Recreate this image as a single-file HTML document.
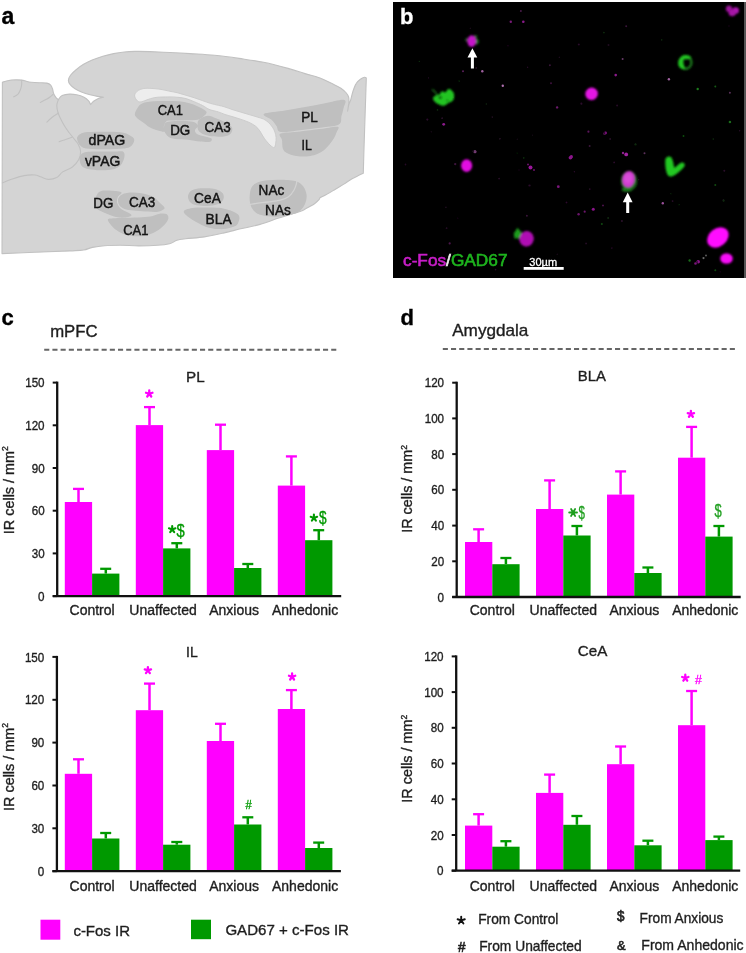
<!DOCTYPE html>
<html><head><meta charset="utf-8"><title>Figure</title>
<style>
html,body{margin:0;padding:0;background:#fff;}
body{width:746px;height:953px;overflow:hidden;}
svg{display:block;font-family:"Liberation Sans", sans-serif;}
</style></head>
<body>
<svg width="746" height="953" viewBox="0 0 746 953">
<defs>
<filter id="blur1" x="-50%" y="-50%" width="200%" height="200%"><feGaussianBlur stdDeviation="0.9"/></filter>
<filter id="blurR" x="-20%" y="-20%" width="140%" height="140%"><feGaussianBlur stdDeviation="0.7"/></filter>
<filter id="blur04" x="-20%" y="-20%" width="140%" height="140%"><feGaussianBlur stdDeviation="0.4"/></filter>
<filter id="tb" x="-5%" y="-5%" width="110%" height="110%"><feGaussianBlur stdDeviation="0.35"/></filter>
<filter id="blur05" x="-50%" y="-50%" width="200%" height="200%"><feGaussianBlur stdDeviation="0.5"/></filter>
</defs>
<g id="brain">
<path d="M2.4 82.2C3.2 82.0 5.4 81.2 7.5 80.8C9.6 80.4 12.7 80.0 15.0 79.9C17.4 79.8 19.7 79.9 21.6 80.1C23.5 80.3 24.7 80.9 26.3 81.3C27.9 81.7 28.8 82.0 31.0 82.2C33.2 82.4 36.8 82.6 39.4 82.7C42.0 82.8 45.0 82.7 46.9 83.1C48.8 83.5 49.8 84.2 50.7 85.2C51.6 86.2 52.0 87.4 52.5 88.8C53.0 90.2 53.0 92.0 53.6 93.5C54.2 95.0 55.2 96.6 56.0 97.6C56.8 98.6 57.9 99.3 58.3 99.6C58.9 98.9 60.3 96.5 62.2 95.6C64.1 94.7 67.1 94.2 69.5 94.1C71.9 94.0 74.3 94.3 76.7 94.8C79.1 95.3 82.0 96.2 84.0 97.2C86.0 98.2 87.5 99.6 88.6 100.8C89.7 102.0 90.3 104.0 90.6 104.6C91.1 104.0 92.3 102.3 93.6 101.3C94.9 100.3 96.7 99.1 98.4 98.4C100.1 97.7 102.7 97.5 103.6 97.3C102.6 97.2 99.8 96.8 97.5 96.4C95.2 96.0 92.7 95.5 90.0 94.8C87.3 94.1 83.9 93.0 81.4 92.0C78.9 91.0 76.9 89.9 75.0 88.7C73.1 87.5 71.3 86.0 70.2 84.6C69.1 83.2 68.4 82.0 68.4 80.4C68.5 78.9 69.2 77.1 70.5 75.3C71.8 73.5 73.9 71.5 76.1 69.7C78.3 67.9 80.9 65.9 83.6 64.3C86.3 62.7 89.0 61.3 92.2 60.0C95.4 58.7 99.3 57.4 102.9 56.3C106.5 55.2 110.0 54.3 113.6 53.6C117.2 52.9 120.7 52.4 124.3 52.0C127.9 51.6 130.8 51.5 135.1 51.4C139.4 51.3 144.2 51.4 150.0 51.6C155.8 51.8 163.3 52.2 170.0 52.5C176.7 52.8 182.6 53.1 190.0 53.6C197.4 54.1 206.3 54.5 214.5 55.3C222.7 56.1 230.8 57.2 239.0 58.4C247.2 59.6 255.4 60.6 263.6 62.3C271.8 64.0 281.2 66.5 288.1 68.4C295.0 70.3 299.7 72.0 305.0 73.6C310.3 75.2 315.5 76.3 320.0 78.0C324.5 79.7 328.5 81.9 332.0 83.6C335.5 85.3 338.5 86.6 340.9 88.2C343.3 89.8 345.0 91.5 346.3 93.0C347.6 94.5 348.2 95.6 348.6 97.0C349.0 98.4 349.0 99.8 348.9 101.5C348.8 103.2 348.4 105.9 348.2 107.5C348.0 109.1 347.7 110.6 347.6 111.2C347.8 110.2 348.1 107.4 348.6 105.5C349.1 103.6 350.0 102.1 350.7 99.8C351.4 97.5 352.0 94.2 352.9 91.5C353.8 88.8 354.9 85.6 356.2 83.6C357.4 81.5 359.0 80.2 360.4 79.2C361.8 78.2 363.4 77.5 364.4 77.3C365.4 77.1 366.0 77.9 366.3 78.0C366.2 81.7 365.9 91.3 365.6 100.0C365.3 108.7 364.9 120.8 364.6 130.0C364.3 139.2 364.0 147.8 363.8 155.0C363.6 162.2 363.4 170.2 363.3 173.3C362.4 173.7 359.8 174.9 357.9 175.8C356.0 176.7 354.5 177.4 352.1 178.8C349.7 180.2 346.4 182.5 343.4 184.4C340.3 186.3 337.0 188.3 333.8 190.2C330.6 192.1 326.4 194.6 324.1 195.8C321.8 197.0 320.7 197.3 320.0 197.6C319.8 198.0 319.4 199.2 318.5 200.2C317.6 201.2 316.6 202.3 314.5 203.7C312.4 205.1 308.4 207.3 306.0 208.6C303.6 209.9 304.5 209.9 300.0 211.5C295.5 213.1 285.5 215.8 278.8 218.0C272.1 220.2 266.1 222.7 260.0 224.4C253.9 226.2 248.1 227.1 242.0 228.5C235.9 229.9 229.5 231.7 223.2 233.1C216.9 234.5 210.7 235.9 204.4 236.9C198.2 237.9 190.3 238.2 185.7 238.8C181.1 239.4 179.7 239.5 177.0 240.3C174.3 241.1 172.8 243.0 169.5 243.8C166.2 244.6 162.6 245.0 157.5 245.3C152.4 245.7 145.1 245.9 138.8 245.9C132.6 245.9 125.7 245.2 120.0 245.2C114.3 245.2 109.2 245.3 104.6 245.7C100.0 246.1 95.9 246.7 92.4 247.4C88.9 248.1 87.5 249.4 83.7 250.0C79.9 250.6 77.8 250.5 69.7 250.9C61.6 251.3 46.2 251.9 34.9 252.3C23.6 252.8 7.5 253.4 2.0 253.6C2.1 225.0 2.3 110.8 2.4 82.2Z" fill="#d4d4d4" stroke="#c1c1c1" stroke-width="1.1" stroke-linejoin="round"/>
<path d="M21.6 80.3C21.6 81.1 21.8 83.5 21.6 85.0C21.4 86.5 21.1 87.9 20.5 89.5C19.9 91.1 18.9 93.2 17.8 94.4C16.7 95.6 14.3 96.4 13.6 96.8" fill="none" stroke="#c1c1c1" stroke-width="1.1" stroke-linecap="round"/>
<path d="M53.0 94.5C52.5 94.9 51.0 96.2 50.0 97.0C49.0 97.8 48.5 98.2 46.9 99.1C45.3 100.0 41.4 101.9 40.3 102.4" fill="none" stroke="#c1c1c1" stroke-width="1.1" stroke-linecap="round"/>
<path d="M58.3 99.8C58.0 100.8 56.8 103.6 56.8 105.7C56.8 107.8 57.4 110.3 58.0 112.5C58.6 114.7 59.5 116.5 60.6 118.8C61.7 121.1 63.3 124.0 64.7 126.3C66.1 128.6 67.6 130.6 69.0 132.5C70.4 134.4 71.5 135.6 73.0 137.5C74.5 139.4 76.9 141.9 78.2 144.2C79.5 146.5 80.5 148.8 80.6 151.4C80.7 154.0 80.0 157.2 78.6 159.8C77.2 162.4 75.1 165.0 72.4 167.0C69.8 169.0 65.3 170.1 62.7 171.9C60.1 173.7 59.1 176.3 56.7 177.6C54.3 178.8 51.0 179.5 48.3 179.4C45.6 179.3 42.7 177.5 40.5 176.8C38.3 176.1 37.7 175.2 35.0 175.0C32.3 174.8 27.9 174.9 24.1 175.6C20.3 176.3 15.7 177.9 12.1 179.1C8.5 180.3 4.0 182.3 2.4 183.0" fill="none" stroke="#c1c1c1" stroke-width="1.1" stroke-linecap="round"/>
<path d="M58.2 113.2C57.2 113.8 54.4 115.5 52.5 117.0C50.6 118.5 47.8 121.2 46.9 122.1" fill="none" stroke="#c1c1c1" stroke-width="1.1" stroke-linecap="round"/>
<path d="M59.1 141.7C60.2 141.3 63.4 140.3 65.5 139.6C67.7 138.8 70.9 137.6 72.0 137.2" fill="none" stroke="#c1c1c1" stroke-width="1.1" stroke-linecap="round"/>
<g filter="url(#blurR)"><path d="M77.6 136.5C78.7 135.1 80.3 133.4 84.0 132.6C87.7 131.8 94.0 131.9 100.0 131.8C106.0 131.8 115.3 131.7 120.3 132.3C125.3 132.9 127.7 134.2 130.0 135.5C132.3 136.8 134.4 138.2 134.3 140.1C134.2 142.0 132.7 145.7 129.5 147.2C126.3 148.7 119.9 148.7 115.0 149.0C110.1 149.3 105.0 149.4 100.2 149.3C95.4 149.2 89.3 149.2 86.0 148.6C82.7 148.0 81.6 146.8 80.2 145.5C78.8 144.2 78.0 142.5 77.6 141.0C77.2 139.5 76.5 137.9 77.6 136.5Z" fill="#bfbfbf"/><path d="M80.0 156.0C80.9 154.5 81.8 152.9 85.1 152.2C88.4 151.5 94.8 151.7 100.0 151.6C105.2 151.5 112.1 151.5 116.0 151.5C119.9 151.5 121.9 150.8 123.3 151.8C124.7 152.8 124.8 155.2 124.3 157.5C123.8 159.8 122.5 163.5 120.5 165.5C118.5 167.5 115.4 168.8 112.0 169.6C108.6 170.4 104.2 170.4 100.2 170.3C96.2 170.2 91.0 169.7 88.0 169.0C85.0 168.3 83.4 167.5 82.0 166.2C80.6 164.9 80.1 162.7 79.8 161.0C79.5 159.3 79.1 157.5 80.0 156.0Z" fill="#bfbfbf"/><path d="M100.7 191.2C103.3 190.4 108.5 190.6 112.0 190.8C115.5 191.0 120.5 191.5 121.5 192.5C122.5 193.5 118.5 195.2 117.8 197.0C117.1 198.8 116.6 201.0 117.2 203.0C117.8 205.0 119.4 207.4 121.2 209.0C123.0 210.6 126.3 211.4 128.0 212.5C129.7 213.6 132.0 214.7 131.5 215.5C131.0 216.3 127.5 217.4 124.8 217.6C122.0 217.8 118.3 217.6 115.0 216.8C111.7 216.0 108.0 214.3 105.0 213.0C102.0 211.7 98.7 210.6 97.0 208.8C95.3 207.1 94.7 204.7 94.6 202.5C94.5 200.3 95.5 197.4 96.5 195.5C97.5 193.6 98.1 192.0 100.7 191.2Z" fill="#bfbfbf"/><path d="M118.2 198.5C119.0 196.5 121.4 194.6 124.0 193.6C126.6 192.6 130.4 192.3 134.0 192.4C137.6 192.5 142.0 193.1 145.3 193.9C148.6 194.8 151.5 195.9 154.0 197.5C156.5 199.1 158.7 201.7 160.5 203.5C162.3 205.3 165.0 206.9 164.6 208.3C164.2 209.7 160.8 211.2 158.0 211.8C155.2 212.4 151.7 211.8 148.0 211.6C144.3 211.4 139.7 211.2 136.0 210.8C132.3 210.5 128.8 210.4 126.0 209.5C123.2 208.6 120.8 207.3 119.5 205.5C118.2 203.7 117.5 200.5 118.2 198.5Z" fill="#bfbfbf"/><path d="M107.9 219.5C108.4 218.1 112.0 218.6 115.2 218.3C118.4 218.0 122.8 218.0 127.2 217.8C131.6 217.6 137.5 217.5 141.7 217.2C145.9 216.9 149.5 216.5 152.6 215.9C155.7 215.3 158.2 213.9 160.5 213.6C162.8 213.3 165.2 213.3 166.5 214.0C167.8 214.7 168.5 216.5 168.4 218.0C168.3 219.5 167.5 221.1 165.8 223.2C164.1 225.2 161.0 228.3 158.0 230.3C155.0 232.3 151.1 234.0 148.0 235.0C144.9 236.0 142.6 236.2 139.3 236.3C136.0 236.4 131.5 236.4 128.0 235.6C124.5 234.8 121.1 233.0 118.5 231.5C115.9 230.0 114.1 228.5 112.3 226.5C110.5 224.5 107.4 220.9 107.9 219.5Z" fill="#bfbfbf"/><path d="M134.8 114.2C134.8 112.5 136.3 109.8 137.5 108.0C138.7 106.2 139.3 104.5 142.1 103.4C144.8 102.3 150.0 101.7 154.0 101.3C158.0 100.9 162.2 100.9 166.2 100.9C170.2 100.9 174.0 100.9 178.0 101.3C182.0 101.7 186.7 102.4 190.3 103.4C193.9 104.4 196.8 105.8 199.5 107.2C202.2 108.6 205.8 110.3 206.5 111.8C207.2 113.3 205.0 115.1 203.5 116.4C202.0 117.7 200.2 119.2 197.6 119.8C195.0 120.4 191.2 120.1 188.0 120.2C184.8 120.3 181.3 120.1 178.3 120.2C175.3 120.3 172.0 120.4 170.0 120.6C168.0 120.8 167.2 120.5 166.2 121.5C165.2 122.5 164.0 124.8 163.8 126.5C163.6 128.2 165.8 130.9 164.8 131.6C163.8 132.3 160.5 131.2 158.0 130.5C155.5 129.8 152.7 128.9 150.0 127.5C147.3 126.0 144.2 123.3 142.1 121.8C140.0 120.3 138.7 119.8 137.5 118.5C136.3 117.2 134.8 116.0 134.8 114.2Z" fill="#bfbfbf"/><path d="M166.4 122.3C168.2 121.5 171.7 121.2 175.0 121.0C178.3 120.8 182.8 120.8 186.0 121.0C189.2 121.2 192.5 121.5 194.5 122.3C196.5 123.1 197.9 124.7 198.0 126.0C198.1 127.3 195.2 128.7 195.0 130.0C194.8 131.3 195.3 132.9 197.0 134.0C198.7 135.1 202.6 135.8 205.0 136.5C207.4 137.2 210.7 137.6 211.5 138.5C212.3 139.4 211.9 141.3 210.0 141.8C208.1 142.3 203.7 141.9 200.0 141.6C196.3 141.3 192.2 140.2 188.0 139.8C183.8 139.4 178.2 139.5 175.0 139.0C171.8 138.5 170.2 138.1 168.5 136.8C166.8 135.6 165.2 133.3 164.5 131.5C163.8 129.7 163.9 127.5 164.2 126.0C164.5 124.5 164.6 123.1 166.4 122.3Z" fill="#bfbfbf"/><path d="M199.0 119.8C200.7 118.3 204.7 116.1 207.5 115.8C210.3 115.5 212.9 117.1 216.0 118.2C219.1 119.3 223.3 121.0 226.0 122.5C228.7 124.0 231.2 125.7 232.0 127.5C232.8 129.3 232.1 132.0 230.8 133.5C229.5 135.0 227.1 136.1 224.0 136.5C220.9 136.9 215.3 136.5 212.0 136.2C208.7 135.8 206.2 135.3 204.0 134.4C201.8 133.5 199.6 132.1 198.5 130.5C197.4 128.9 197.5 126.8 197.6 125.0C197.7 123.2 197.3 121.3 199.0 119.8Z" fill="#bfbfbf"/><path d="M188.0 197.1C187.9 195.1 188.8 192.6 190.5 191.2C192.2 189.8 195.2 189.1 198.0 188.6C200.8 188.1 204.0 188.1 207.0 188.2C210.0 188.3 213.4 188.4 216.0 189.2C218.6 190.0 221.2 191.4 222.5 193.0C223.8 194.6 224.1 196.7 223.6 198.5C223.1 200.3 221.8 202.4 219.5 203.6C217.2 204.8 213.4 205.5 210.0 205.8C206.6 206.1 202.2 206.1 199.0 205.6C195.8 205.1 192.8 204.4 191.0 203.0C189.2 201.6 188.1 199.1 188.0 197.1Z" fill="#bfbfbf"/><path d="M183.8 211.2C184.6 209.5 189.7 208.4 194.1 207.8C198.5 207.2 205.3 207.5 210.0 207.6C214.7 207.7 218.4 207.6 222.2 208.3C226.0 209.0 230.2 210.3 233.0 211.6C235.8 212.9 238.2 214.2 239.1 215.9C240.0 217.6 239.1 220.3 238.5 222.0C237.9 223.7 237.5 225.0 235.4 226.1C233.3 227.2 229.0 228.3 226.0 228.8C223.0 229.3 220.5 229.2 217.5 229.0C214.5 228.8 211.1 228.3 208.0 227.4C204.9 226.5 202.1 225.1 199.0 223.5C195.9 221.9 191.9 219.9 189.4 217.8C186.9 215.8 183.0 212.9 183.8 211.2Z" fill="#bfbfbf"/><path d="M249.6 198.1C249.6 194.8 250.1 190.2 251.5 187.5C252.9 184.8 255.2 183.4 258.0 182.2C260.8 181.0 264.3 180.6 268.0 180.2C271.7 179.8 275.4 179.6 280.0 179.7C284.6 179.8 291.5 179.9 295.3 181.0C299.1 182.1 301.1 183.7 303.0 186.0C304.9 188.3 306.3 192.1 306.6 195.1C306.9 198.1 306.1 201.4 305.0 204.0C303.9 206.6 302.5 208.6 300.3 210.4C298.1 212.2 295.4 213.6 292.0 214.6C288.6 215.6 284.0 216.2 280.0 216.5C276.0 216.8 271.8 216.8 268.0 216.3C264.2 215.8 259.8 215.0 257.0 213.4C254.2 211.8 252.5 209.6 251.3 207.0C250.1 204.4 249.6 201.3 249.6 198.1Z" fill="#bfbfbf"/><path d="M263.9 114.0C266.1 112.5 278.1 111.8 285.0 110.6C291.9 109.4 298.3 108.2 305.0 107.0C311.7 105.8 318.4 104.4 325.0 103.2C331.6 102.0 341.2 99.1 344.3 99.9C347.4 100.7 344.1 105.3 343.6 108.0C343.1 110.7 342.3 113.2 341.5 116.0C340.7 118.8 342.4 122.6 338.8 124.6C335.2 126.6 326.5 126.9 320.0 127.8C313.5 128.7 306.6 129.5 300.0 130.2C293.4 130.9 284.4 132.7 280.5 132.0C276.6 131.3 278.0 128.0 276.5 126.0C275.0 124.0 273.6 121.8 271.5 119.8C269.4 117.8 261.6 115.5 263.9 114.0Z" fill="#bfbfbf"/><path d="M280.6 133.6C283.6 132.2 293.4 132.2 300.0 131.4C306.6 130.6 313.7 129.8 320.0 129.0C326.3 128.2 334.9 126.2 337.6 126.8C340.4 127.4 337.1 130.6 336.5 132.5C335.9 134.4 335.2 136.3 334.0 138.3C332.8 140.3 331.2 142.5 329.5 144.5C327.8 146.5 325.8 148.8 323.5 150.5C321.2 152.2 318.5 153.6 316.0 154.6C313.5 155.6 311.2 156.0 308.5 156.3C305.8 156.6 302.6 156.6 300.0 156.4C297.4 156.2 294.9 155.9 292.6 155.3C290.3 154.7 287.6 153.7 286.0 152.6C284.4 151.5 283.5 150.6 282.8 148.5C282.1 146.4 282.4 142.5 282.0 140.0C281.6 137.5 277.6 135.0 280.6 133.6Z" fill="#bfbfbf"/></g>
<path d="M249.5 204.6C250.9 204.4 254.9 203.6 258.0 203.2C261.1 202.8 264.3 202.5 268.0 202.0C271.7 201.5 276.8 201.1 280.2 200.2C283.6 199.3 286.2 198.4 288.5 196.8C290.8 195.2 292.5 192.6 293.8 190.5C295.1 188.4 295.7 186.1 296.2 184.5C296.7 182.9 296.7 181.6 296.8 181.0" fill="none" stroke="#d4d4d4" stroke-width="1.3" opacity="0.9"/>
<path d="M134.6 96.0C134.4 94.5 135.5 92.9 136.5 91.8C137.5 90.7 139.1 89.9 140.7 89.3C142.3 88.7 143.8 88.4 146.0 88.3C148.2 88.2 151.4 88.4 154.1 88.6C156.8 88.8 159.3 89.1 162.0 89.6C164.7 90.0 167.3 90.8 170.0 91.3C172.7 91.8 175.3 92.2 178.0 92.9C180.7 93.6 183.4 94.5 186.1 95.3C188.8 96.1 191.4 96.8 194.1 97.7C196.8 98.6 199.5 99.6 202.2 100.5C204.9 101.4 207.5 102.5 210.2 103.3C212.9 104.1 215.8 104.7 218.3 105.3C220.8 105.9 222.6 106.2 225.0 107.0C227.4 107.8 230.3 108.9 233.0 109.8C235.7 110.7 238.4 111.4 241.1 112.2C243.8 113.0 246.4 113.8 249.1 114.6C251.8 115.4 254.8 116.2 257.2 117.0C259.6 117.8 261.7 118.2 263.6 119.1C265.5 120.0 266.9 121.1 268.4 122.4C269.9 123.8 271.4 125.6 272.5 127.2C273.6 128.8 274.3 130.3 274.9 132.0C275.5 133.7 276.0 135.7 276.1 137.6C276.2 139.5 276.0 141.6 275.7 143.3C275.4 145.0 275.0 147.1 274.3 147.6C273.6 148.1 272.5 147.0 271.5 146.3C270.5 145.6 269.5 144.6 268.5 143.5C267.5 142.4 266.4 141.2 265.5 140.0C264.6 138.8 263.8 137.6 262.8 136.0C261.8 134.4 260.8 132.2 259.6 130.6C258.4 129.0 257.4 127.6 255.6 126.2C253.8 124.8 251.5 123.5 249.1 122.4C246.7 121.3 243.8 120.3 241.1 119.4C238.4 118.5 235.7 117.6 233.0 116.8C230.3 116.0 227.4 115.3 225.0 114.5C222.6 113.7 220.8 112.7 218.3 111.9C215.8 111.1 212.2 110.5 210.2 109.8C208.2 109.1 207.5 108.5 206.2 107.7C204.9 107.0 204.2 106.3 202.2 105.3C200.2 104.3 196.8 102.8 194.1 101.7C191.4 100.6 188.8 99.3 186.1 98.6C183.4 97.9 180.7 97.6 178.0 97.3C175.3 97.0 172.7 97.0 170.0 96.9C167.3 96.9 164.7 96.9 162.0 97.0C159.3 97.1 156.6 97.2 154.1 97.7C151.6 98.2 149.1 99.1 147.0 99.8C144.9 100.5 143.1 101.6 141.5 101.8C139.9 102.0 138.7 102.0 137.5 101.0C136.3 100.0 134.8 97.5 134.6 96.0Z" fill="#ededed" stroke="#c9c9c9" stroke-width="0.9" filter="url(#blur04)"/>
<g filter="url(#tb)">
<text x="157.7" y="114.8" font-size="14.6" fill="#141414" stroke="#141414" stroke-width="0.45" textLength="25.2" lengthAdjust="spacingAndGlyphs">CA1</text>
<text x="170.2" y="135.1" font-size="14.6" fill="#141414" stroke="#141414" stroke-width="0.45" textLength="20.1" lengthAdjust="spacingAndGlyphs">DG</text>
<text x="204.6" y="131.8" font-size="14.6" fill="#141414" stroke="#141414" stroke-width="0.45" textLength="26.2" lengthAdjust="spacingAndGlyphs">CA3</text>
<text x="301.2" y="122.3" font-size="14.6" fill="#141414" stroke="#141414" stroke-width="0.45" textLength="16.6" lengthAdjust="spacingAndGlyphs">PL</text>
<text x="301.6" y="149.9" font-size="14.6" fill="#141414" stroke="#141414" stroke-width="0.45" textLength="10.3" lengthAdjust="spacingAndGlyphs">IL</text>
<text x="88.6" y="145.3" font-size="14.6" fill="#141414" stroke="#141414" stroke-width="0.45" textLength="36.7" lengthAdjust="spacingAndGlyphs">dPAG</text>
<text x="84.9" y="166.3" font-size="14.6" fill="#141414" stroke="#141414" stroke-width="0.45" textLength="35.4" lengthAdjust="spacingAndGlyphs">vPAG</text>
<text x="93.3" y="207.9" font-size="14.6" fill="#141414" stroke="#141414" stroke-width="0.45" textLength="20.1" lengthAdjust="spacingAndGlyphs">DG</text>
<text x="129.0" y="206.8" font-size="14.6" fill="#141414" stroke="#141414" stroke-width="0.45" textLength="26.2" lengthAdjust="spacingAndGlyphs">CA3</text>
<text x="123.2" y="234.5" font-size="14.6" fill="#141414" stroke="#141414" stroke-width="0.45" textLength="25.2" lengthAdjust="spacingAndGlyphs">CA1</text>
<text x="194.1" y="203.0" font-size="14.6" fill="#141414" stroke="#141414" stroke-width="0.45" textLength="26.7" lengthAdjust="spacingAndGlyphs">CeA</text>
<text x="205.6" y="224.2" font-size="14.6" fill="#141414" stroke="#141414" stroke-width="0.45" textLength="26.0" lengthAdjust="spacingAndGlyphs">BLA</text>
<text x="258.6" y="195.3" font-size="14.6" fill="#141414" stroke="#141414" stroke-width="0.45" textLength="25.6" lengthAdjust="spacingAndGlyphs">NAc</text>
<text x="265.1" y="214.8" font-size="14.6" fill="#141414" stroke="#141414" stroke-width="0.45" textLength="25.7" lengthAdjust="spacingAndGlyphs">NAs</text>
</g>
</g>
<rect x="393" y="2" width="351" height="276" fill="#000"/>
<rect x="744" y="2" width="2" height="276" fill="#555"/>
<defs><clipPath id="bclip"><rect x="393" y="2" width="351" height="276"/></clipPath><filter id="cb" x="-50%" y="-50%" width="200%" height="200%"><feGaussianBlur stdDeviation="1.1"/></filter><filter id="cb2" x="-50%" y="-50%" width="200%" height="200%"><feGaussianBlur stdDeviation="0.7"/></filter><filter id="cb3" x="-100%" y="-100%" width="300%" height="300%"><feGaussianBlur stdDeviation="0.6"/></filter></defs>
<g clip-path="url(#bclip)">
<g filter="url(#cb3)"><circle cx="510.8" cy="21.7" r="1.2" fill="#7a1a7a"/><circle cx="523.3" cy="21.7" r="1.3" fill="#8a1a8a"/><circle cx="502.8" cy="85.7" r="1.2" fill="#b070b0"/><circle cx="443.7" cy="124.3" r="1.4" fill="#8a1a8a"/><circle cx="482.3" cy="71.2" r="1.2" fill="#a060a0"/><circle cx="463" cy="71.2" r="1.0" fill="#5a205a"/><circle cx="557.1" cy="107.4" r="1.2" fill="#6a1a6a"/><circle cx="520.9" cy="10.9" r="1.0" fill="#4a1a4a"/><circle cx="549.9" cy="65.2" r="1.0" fill="#3a143a"/><circle cx="551" cy="83.3" r="1.0" fill="#3a143a"/><circle cx="615.7" cy="75.1" r="1.3" fill="#8a1a8a"/><circle cx="668.9" cy="79.3" r="1.2" fill="#a060a0"/><circle cx="622.6" cy="59" r="1.0" fill="#6a3a6a"/><circle cx="697.7" cy="89" r="1.2" fill="#1a7a1a"/><circle cx="729.9" cy="122" r="1.3" fill="#1a6a1a"/><circle cx="605.5" cy="133" r="1.4" fill="#8a148a"/><circle cx="588.4" cy="131.7" r="1.1" fill="#5a145a"/><circle cx="729.9" cy="92.7" r="1.0" fill="#5a305a"/><circle cx="715.3" cy="86.6" r="1.0" fill="#145a14"/><circle cx="626.2" cy="26.3" r="1.0" fill="#3a143a"/><circle cx="530.5" cy="167.4" r="2.0" fill="#9a149a"/><circle cx="558.3" cy="186.7" r="1.4" fill="#7a147a"/><circle cx="475" cy="151.7" r="1.5" fill="#8a408a"/><circle cx="570.4" cy="157.8" r="1.8" fill="#8a148a"/><circle cx="449.7" cy="243.4" r="1.1" fill="#4a144a"/><circle cx="526.9" cy="215.7" r="1.0" fill="#3a143a"/><circle cx="626.2" cy="154.4" r="1.9" fill="#a020a0"/><circle cx="623.0" cy="153.0" r="1.2" fill="#8a208a"/><circle cx="571.3" cy="156.8" r="1.7" fill="#8a148a"/><circle cx="593.3" cy="209.3" r="1.5" fill="#8a148a"/><circle cx="578.6" cy="214.2" r="1.2" fill="#6a146a"/><circle cx="584.7" cy="211.7" r="1.1" fill="#6a146a"/><circle cx="603" cy="205.6" r="1.0" fill="#4a144a"/><circle cx="698.2" cy="261.7" r="1.8" fill="#8a148a"/><circle cx="695.5" cy="263.5" r="1.3" fill="#7a147a"/><circle cx="662.8" cy="203.2" r="1.2" fill="#9a509a"/><circle cx="644.5" cy="153.2" r="1.0" fill="#5a305a"/><circle cx="589.6" cy="145.9" r="1.0" fill="#3a143a"/><circle cx="604.3" cy="133.7" r="1.1" fill="#6a146a"/><circle cx="683.5" cy="136.1" r="1.0" fill="#104a10"/><circle cx="715.3" cy="184.9" r="1.0" fill="#104a10"/><circle cx="601.8" cy="223.9" r="1.0" fill="#104a10"/><circle cx="689.6" cy="260.5" r="1.2" fill="#1a6a1a"/><circle cx="715.3" cy="270.3" r="1.0" fill="#104a10"/><circle cx="703.5" cy="258.1" r="1.1" fill="#6a6a6a"/><circle cx="706.0" cy="255.5" r="1.0" fill="#5a5a5a"/><circle cx="455.2" cy="164.1" r="1.2" fill="#3a143a"/><circle cx="474.9" cy="151.6" r="1.3" fill="#6a3a6a"/><circle cx="534.0" cy="170.0" r="1.0" fill="#6a146a"/><circle cx="528.0" cy="164.5" r="1.0" fill="#6a146a"/><circle cx="508.0" cy="45.7" r="0.6" fill="#2a0e2a"/><circle cx="581.4" cy="103.7" r="1.1" fill="#2a0e2a"/><circle cx="470.3" cy="28.2" r="0.6" fill="#221022"/><circle cx="427.4" cy="119.6" r="1.1" fill="#2a0e2a"/><circle cx="614.2" cy="162.4" r="0.9" fill="#2a0e2a"/><circle cx="533.3" cy="268.6" r="0.9" fill="#2a0e2a"/><circle cx="442.1" cy="118.2" r="0.9" fill="#2a0e2a"/><circle cx="589.8" cy="189.1" r="0.9" fill="#2a0e2a"/><circle cx="617.1" cy="105.5" r="0.9" fill="#2a0e2a"/><circle cx="610.2" cy="139.0" r="1.0" fill="#221022"/><circle cx="557.1" cy="254.3" r="0.7" fill="#1e0e1e"/><circle cx="670.9" cy="193.7" r="0.6" fill="#0e2a0e"/><circle cx="499.9" cy="138.7" r="1.0" fill="#1e0e1e"/><circle cx="495.6" cy="269.6" r="0.9" fill="#2a0e2a"/><circle cx="453.1" cy="97.4" r="0.8" fill="#221022"/><circle cx="728.9" cy="26.0" r="0.8" fill="#1e0e1e"/><circle cx="517.2" cy="139.1" r="0.6" fill="#221022"/><circle cx="428.4" cy="77.9" r="0.6" fill="#2a0e2a"/><circle cx="638.7" cy="179.7" r="0.7" fill="#221022"/><circle cx="529.5" cy="185.5" r="1.1" fill="#2a0e2a"/><circle cx="519.0" cy="169.9" r="0.6" fill="#221022"/><circle cx="661.8" cy="39.9" r="0.8" fill="#0e2a0e"/><circle cx="713.2" cy="139.1" r="0.8" fill="#0e2a0e"/><circle cx="586.1" cy="243.5" r="1.0" fill="#221022"/><circle cx="492.3" cy="117.1" r="0.9" fill="#1e0e1e"/><circle cx="527.6" cy="67.3" r="0.7" fill="#2a0e2a"/><circle cx="476.3" cy="68.0" r="1.0" fill="#221022"/><circle cx="459.1" cy="81.1" r="0.8" fill="#0e2a0e"/><circle cx="523.8" cy="157.9" r="0.9" fill="#0e2a0e"/><circle cx="574.4" cy="171.8" r="0.8" fill="#2a0e2a"/><circle cx="697.4" cy="262.0" r="0.8" fill="#221022"/><circle cx="532.4" cy="135.0" r="0.6" fill="#221022"/><circle cx="419.3" cy="61.4" r="0.7" fill="#0e2a0e"/><circle cx="603.9" cy="32.6" r="0.9" fill="#0e2a0e"/><circle cx="724.3" cy="170.7" r="1.0" fill="#2a0e2a"/><circle cx="608.5" cy="45.1" r="1.1" fill="#1e0e1e"/><circle cx="604.4" cy="133.0" r="1.0" fill="#2a0e2a"/><circle cx="739.6" cy="130.8" r="0.8" fill="#221022"/><circle cx="445.9" cy="207.4" r="0.8" fill="#1e0e1e"/><circle cx="635.5" cy="144.4" r="1.1" fill="#0e2a0e"/><circle cx="578.8" cy="44.6" r="1.0" fill="#2a0e2a"/><circle cx="499.1" cy="178.6" r="0.9" fill="#2a0e2a"/><circle cx="486.3" cy="104.0" r="0.8" fill="#0e2a0e"/><circle cx="473.1" cy="151.2" r="0.9" fill="#1e0e1e"/><circle cx="608.2" cy="217.9" r="1.0" fill="#0e2a0e"/><circle cx="679.1" cy="204.8" r="0.7" fill="#0e2a0e"/><circle cx="566.5" cy="202.4" r="1.0" fill="#2a0e2a"/><circle cx="559.4" cy="57.3" r="0.8" fill="#1e0e1e"/><circle cx="720.2" cy="271.8" r="0.6" fill="#1e0e1e"/><circle cx="431.3" cy="131.9" r="0.7" fill="#1e0e1e"/><circle cx="611.9" cy="248.1" r="0.8" fill="#2a0e2a"/><circle cx="621.9" cy="220.9" r="1.0" fill="#2a0e2a"/><circle cx="437.5" cy="109.9" r="0.8" fill="#0e2a0e"/><circle cx="457.8" cy="218.1" r="0.6" fill="#1e0e1e"/><circle cx="723.4" cy="199.9" r="0.8" fill="#221022"/><circle cx="723.6" cy="200.7" r="1.1" fill="#0e2a0e"/><circle cx="405.5" cy="164.5" r="1.0" fill="#221022"/><circle cx="446.6" cy="228.2" r="0.9" fill="#221022"/><circle cx="517.2" cy="153.1" r="0.6" fill="#0e2a0e"/><circle cx="672.6" cy="201.1" r="0.9" fill="#2a0e2a"/></g>
<g filter="url(#cb)"><ellipse cx="477.2" cy="41.5" rx="1.6" ry="3.0" fill="#1f6f1f" opacity="1"/><ellipse cx="466.3" cy="39.8" rx="1.2" ry="1.8" fill="#1a5a1a" opacity="1"/><ellipse cx="475.8" cy="36.5" rx="1.6" ry="1.6" fill="#1d6a1d" opacity="1"/><ellipse cx="471.7" cy="41.1" rx="4.4" ry="5.8" fill="#c414c8" opacity="1"/><ellipse cx="591.6" cy="93.8" rx="6.4" ry="6.2" fill="#e612e6" opacity="1" transform="rotate(-25 591.6 93.8)"/><ellipse cx="729.0" cy="8.8" rx="3.2" ry="3.4" fill="#9a129a" opacity="1"/><ellipse cx="735.6" cy="10.6" rx="3.4" ry="3.3" fill="#b014b4" opacity="1"/><ellipse cx="732.2" cy="13.0" rx="3.6" ry="3.2" fill="#a612a6" opacity="1"/><ellipse cx="466.6" cy="165.6" rx="5.6" ry="6.3" fill="#e20ae2" opacity="1"/><path d="M517.5 227.8 L521.5 232.5 L521.8 238.2 L514.5 238.6 L513.8 233.5 Z" fill="#1c9c1c"/><ellipse cx="526.5" cy="238.8" rx="7.2" ry="7.8" fill="#b010b4" opacity="1" transform="rotate(15 526.5 238.8)"/><ellipse cx="629.0" cy="181.0" rx="8.2" ry="10.0" fill="#1f6a1f" opacity="1"/><ellipse cx="626.8" cy="189.6" rx="5.0" ry="2.2" fill="#1f7a1f" opacity="1"/><ellipse cx="628.5" cy="179.2" rx="6.2" ry="8.2" fill="#d03ad0" opacity="1" transform="rotate(10 628.5 179.2)"/><ellipse cx="628.0" cy="178.5" rx="3.8" ry="5.0" fill="#e05ae0" opacity="0.6" transform="rotate(10 628.0 178.5)"/><ellipse cx="717.9" cy="237.4" rx="11.8" ry="9.0" fill="#ff08ff" opacity="1" transform="rotate(-40 717.9 237.4)"/><ellipse cx="726.5" cy="258.5" rx="6.3" ry="5.3" fill="#f808f8" opacity="1"/><path d="M441.6 91.3 C443 91.5 444.3 92.5 445.4 92.3 C446.5 91.5 447.3 89.3 448.6 89.1 C450 88.9 450.8 89.6 451.3 90.2 C452.8 91.2 453.8 92.5 454.0 93.9 C454.4 95.5 454.3 98.5 452.9 100.4 C451.8 101.6 450.5 102.0 449.1 102.5 C447.3 103.6 445.7 105.3 443.8 105.7 C441.8 105.9 440.0 105.2 438.4 104.1 C436.8 103.4 435.5 102.5 434.7 101.4 C433.7 100.4 432.9 99.3 433.0 98.2 C433.3 96.8 434.6 95.9 435.7 95.5 C437.1 94.9 438.5 95.0 439.5 94.5 C440.4 93.8 440.6 92.0 441.6 91.3 Z" fill="#22c422"/><path d="M432 89.5 C434 90.5 436 93 437.5 95" stroke="#1a6a1a" stroke-width="1.6" fill="none"/><ellipse cx="440.3" cy="97.6" rx="1.7" ry="1.4" fill="#0c4a0c" opacity="1"/><ellipse cx="447.3" cy="100.6" rx="1.6" ry="1.0" fill="#138a13" opacity="1"/><ellipse cx="685.4" cy="62.5" rx="6.0" ry="6.4" fill="none" stroke="#1a7a1a" stroke-width="2.4"/><path d="M683 55.5 C687 54.3 690.5 55.8 691.5 58 L687 59.5 C685.5 58.8 683.8 59.5 683.5 60.5 C683 63 684 66 685.5 68.5 C683 70 679.5 68.5 678.5 65.5 C677.5 61 680 57 683 55.5 Z" fill="#22c422"/><path d="M665.3 160 C665.5 157 669 155.5 671.5 157.5 C673 160 673.5 164 674.3 168 L680 163.2 C682 161.8 684.8 162.3 684.8 165 C684.5 167.5 680.5 170.5 677 173.5 C674.5 175.8 670.5 177.5 668 175.5 C665.8 172 665 165 665.3 160 Z" fill="#22c822"/></g>
<g filter="url(#cb2)"><path d="M472.4 48.2 L477.29999999999995 57.6 L473.9 57.6 L473.9 68.6 L470.9 68.6 L470.9 57.6 L467.5 57.6 Z" fill="#fff"/><path d="M627.7 192.4 L632.6 202.3 L629.2 202.3 L629.2 212.9 L626.2 212.9 L626.2 202.3 L622.8000000000001 202.3 Z" fill="#fff"/></g>
</g>
<g filter="url(#cb3)"><text x="400" y="24" font-size="22" font-weight="bold" fill="#fff" stroke="#fff" stroke-width="0.3">b</text></g>
<g filter="url(#cb3)"><text x="403" y="265.8" font-size="16.2" textLength="104.5" lengthAdjust="spacingAndGlyphs" stroke-width="0.6"><tspan fill="#c81ec8" stroke="#c81ec8">c-Fos</tspan><tspan fill="#f0f0f0" stroke="#f0f0f0">/</tspan><tspan fill="#1eb41e" stroke="#1eb41e">GAD67</tspan></text></g>
<g filter="url(#cb3)"><text x="529.3" y="265.6" font-size="11.8" fill="#fff" stroke="#fff" stroke-width="0.3" textLength="27.8" lengthAdjust="spacingAndGlyphs">30µm</text></g>
<rect x="523.7" y="267" width="40" height="2.8" fill="#fff"/>
<line x1="44.2" y1="349.7" x2="336.3" y2="349.7" stroke="#666" stroke-width="2" stroke-dasharray="5.1 3.1"/>
<line x1="442.8" y1="349.0" x2="735.3" y2="349.0" stroke="#666" stroke-width="2" stroke-dasharray="5.1 3.1"/>
<line x1="57.2" y1="381.6" x2="57.2" y2="596.1" stroke="#111" stroke-width="2.3"/>
<rect x="64.8" y="502" width="27.3" height="94.1" fill="#ff00ff"/>
<line x1="78.5" y1="488.9" x2="78.5" y2="502" stroke="#ff00ff" stroke-width="2.5"/>
<line x1="73.0" y1="488.9" x2="84.0" y2="488.9" stroke="#ff00ff" stroke-width="2.3"/>
<rect x="92.1" y="573.6" width="27.3" height="22.5" fill="#009900"/>
<line x1="105.8" y1="568.8" x2="105.8" y2="573.6" stroke="#009900" stroke-width="2.5"/>
<line x1="100.2" y1="568.8" x2="111.2" y2="568.8" stroke="#009900" stroke-width="2.3"/>
<rect x="135.8" y="425.1" width="27.3" height="171.0" fill="#ff00ff"/>
<line x1="149.5" y1="407.1" x2="149.5" y2="425.1" stroke="#ff00ff" stroke-width="2.5"/>
<line x1="144.0" y1="407.1" x2="155.0" y2="407.1" stroke="#ff00ff" stroke-width="2.3"/>
<rect x="163.1" y="548.4" width="27.3" height="47.7" fill="#009900"/>
<line x1="176.8" y1="543.2" x2="176.8" y2="548.4" stroke="#009900" stroke-width="2.5"/>
<line x1="171.3" y1="543.2" x2="182.3" y2="543.2" stroke="#009900" stroke-width="2.3"/>
<rect x="206.8" y="450.1" width="27.3" height="146.0" fill="#ff00ff"/>
<line x1="220.5" y1="424.7" x2="220.5" y2="450.1" stroke="#ff00ff" stroke-width="2.5"/>
<line x1="215.0" y1="424.7" x2="226.0" y2="424.7" stroke="#ff00ff" stroke-width="2.3"/>
<rect x="234.1" y="568" width="27.3" height="28.1" fill="#009900"/>
<line x1="247.8" y1="564" x2="247.8" y2="568" stroke="#009900" stroke-width="2.5"/>
<line x1="242.3" y1="564" x2="253.3" y2="564" stroke="#009900" stroke-width="2.3"/>
<rect x="277.8" y="485.6" width="27.3" height="110.5" fill="#ff00ff"/>
<line x1="291.4" y1="456.4" x2="291.4" y2="485.6" stroke="#ff00ff" stroke-width="2.5"/>
<line x1="285.9" y1="456.4" x2="296.9" y2="456.4" stroke="#ff00ff" stroke-width="2.3"/>
<rect x="305.1" y="540.2" width="27.3" height="55.9" fill="#009900"/>
<line x1="318.8" y1="530.2" x2="318.8" y2="540.2" stroke="#009900" stroke-width="2.5"/>
<line x1="313.2" y1="530.2" x2="324.2" y2="530.2" stroke="#009900" stroke-width="2.3"/>
<line x1="52.7" y1="596.1" x2="341.2" y2="596.1" stroke="#111" stroke-width="2.3"/>
<line x1="52.7" y1="596.1" x2="57.2" y2="596.1" stroke="#111" stroke-width="2"/>
<line x1="52.7" y1="553.4" x2="57.2" y2="553.4" stroke="#111" stroke-width="2"/>
<line x1="52.7" y1="510.7" x2="57.2" y2="510.7" stroke="#111" stroke-width="2"/>
<line x1="52.7" y1="468.0" x2="57.2" y2="468.0" stroke="#111" stroke-width="2"/>
<line x1="52.7" y1="425.3" x2="57.2" y2="425.3" stroke="#111" stroke-width="2"/>
<line x1="52.7" y1="382.6" x2="57.2" y2="382.6" stroke="#111" stroke-width="2"/>
<line x1="56.9" y1="655.9" x2="56.9" y2="871.2" stroke="#111" stroke-width="2.3"/>
<rect x="64.8" y="773.8" width="27.3" height="97.4" fill="#ff00ff"/>
<line x1="78.5" y1="759.3" x2="78.5" y2="773.8" stroke="#ff00ff" stroke-width="2.5"/>
<line x1="73.0" y1="759.3" x2="84.0" y2="759.3" stroke="#ff00ff" stroke-width="2.3"/>
<rect x="92.1" y="838.5" width="27.3" height="32.7" fill="#009900"/>
<line x1="105.8" y1="833" x2="105.8" y2="838.5" stroke="#009900" stroke-width="2.5"/>
<line x1="100.2" y1="833" x2="111.2" y2="833" stroke="#009900" stroke-width="2.3"/>
<rect x="135.8" y="710.2" width="27.3" height="161.0" fill="#ff00ff"/>
<line x1="149.5" y1="683.6" x2="149.5" y2="710.2" stroke="#ff00ff" stroke-width="2.5"/>
<line x1="144.0" y1="683.6" x2="155.0" y2="683.6" stroke="#ff00ff" stroke-width="2.3"/>
<rect x="163.1" y="844.7" width="27.3" height="26.5" fill="#009900"/>
<line x1="176.8" y1="842" x2="176.8" y2="844.7" stroke="#009900" stroke-width="2.5"/>
<line x1="171.3" y1="842" x2="182.3" y2="842" stroke="#009900" stroke-width="2.3"/>
<rect x="206.8" y="741" width="27.3" height="130.2" fill="#ff00ff"/>
<line x1="220.5" y1="723.8" x2="220.5" y2="741" stroke="#ff00ff" stroke-width="2.5"/>
<line x1="215.0" y1="723.8" x2="226.0" y2="723.8" stroke="#ff00ff" stroke-width="2.3"/>
<rect x="234.1" y="824.5" width="27.3" height="46.7" fill="#009900"/>
<line x1="247.8" y1="817.3" x2="247.8" y2="824.5" stroke="#009900" stroke-width="2.5"/>
<line x1="242.3" y1="817.3" x2="253.3" y2="817.3" stroke="#009900" stroke-width="2.3"/>
<rect x="277.8" y="709" width="27.3" height="162.2" fill="#ff00ff"/>
<line x1="291.4" y1="690.1" x2="291.4" y2="709" stroke="#ff00ff" stroke-width="2.5"/>
<line x1="285.9" y1="690.1" x2="296.9" y2="690.1" stroke="#ff00ff" stroke-width="2.3"/>
<rect x="305.1" y="848" width="27.3" height="23.2" fill="#009900"/>
<line x1="318.8" y1="842.6" x2="318.8" y2="848" stroke="#009900" stroke-width="2.5"/>
<line x1="313.2" y1="842.6" x2="324.2" y2="842.6" stroke="#009900" stroke-width="2.3"/>
<line x1="52.4" y1="871.2" x2="340.9" y2="871.2" stroke="#111" stroke-width="2.3"/>
<line x1="52.4" y1="871.2" x2="56.9" y2="871.2" stroke="#111" stroke-width="2"/>
<line x1="52.4" y1="828.3" x2="56.9" y2="828.3" stroke="#111" stroke-width="2"/>
<line x1="52.4" y1="785.5" x2="56.9" y2="785.5" stroke="#111" stroke-width="2"/>
<line x1="52.4" y1="742.6" x2="56.9" y2="742.6" stroke="#111" stroke-width="2"/>
<line x1="52.4" y1="699.8" x2="56.9" y2="699.8" stroke="#111" stroke-width="2"/>
<line x1="52.4" y1="656.9" x2="56.9" y2="656.9" stroke="#111" stroke-width="2"/>
<line x1="456.7" y1="381.7" x2="456.7" y2="597" stroke="#111" stroke-width="2.3"/>
<rect x="465.0" y="542" width="27.3" height="55.0" fill="#ff00ff"/>
<line x1="478.6" y1="529.3" x2="478.6" y2="542" stroke="#ff00ff" stroke-width="2.5"/>
<line x1="473.1" y1="529.3" x2="484.1" y2="529.3" stroke="#ff00ff" stroke-width="2.3"/>
<rect x="492.3" y="564.2" width="27.3" height="32.8" fill="#009900"/>
<line x1="505.9" y1="558" x2="505.9" y2="564.2" stroke="#009900" stroke-width="2.5"/>
<line x1="500.4" y1="558" x2="511.4" y2="558" stroke="#009900" stroke-width="2.3"/>
<rect x="536.0" y="509" width="27.3" height="88.0" fill="#ff00ff"/>
<line x1="549.6" y1="480.4" x2="549.6" y2="509" stroke="#ff00ff" stroke-width="2.5"/>
<line x1="544.1" y1="480.4" x2="555.1" y2="480.4" stroke="#ff00ff" stroke-width="2.3"/>
<rect x="563.3" y="535.5" width="27.3" height="61.5" fill="#009900"/>
<line x1="576.9" y1="526" x2="576.9" y2="535.5" stroke="#009900" stroke-width="2.5"/>
<line x1="571.4" y1="526" x2="582.4" y2="526" stroke="#009900" stroke-width="2.3"/>
<rect x="607.0" y="494.6" width="27.3" height="102.4" fill="#ff00ff"/>
<line x1="620.6" y1="471.4" x2="620.6" y2="494.6" stroke="#ff00ff" stroke-width="2.5"/>
<line x1="615.1" y1="471.4" x2="626.1" y2="471.4" stroke="#ff00ff" stroke-width="2.3"/>
<rect x="634.3" y="573" width="27.3" height="24.0" fill="#009900"/>
<line x1="647.9" y1="567.5" x2="647.9" y2="573" stroke="#009900" stroke-width="2.5"/>
<line x1="642.4" y1="567.5" x2="653.4" y2="567.5" stroke="#009900" stroke-width="2.3"/>
<rect x="678.0" y="457.7" width="27.3" height="139.3" fill="#ff00ff"/>
<line x1="691.6" y1="426.9" x2="691.6" y2="457.7" stroke="#ff00ff" stroke-width="2.5"/>
<line x1="686.1" y1="426.9" x2="697.1" y2="426.9" stroke="#ff00ff" stroke-width="2.3"/>
<rect x="705.3" y="536.6" width="27.3" height="60.4" fill="#009900"/>
<line x1="718.9" y1="526" x2="718.9" y2="536.6" stroke="#009900" stroke-width="2.5"/>
<line x1="713.4" y1="526" x2="724.4" y2="526" stroke="#009900" stroke-width="2.3"/>
<line x1="452.2" y1="597" x2="740.7" y2="597" stroke="#111" stroke-width="2.3"/>
<line x1="452.2" y1="597.0" x2="456.7" y2="597.0" stroke="#111" stroke-width="2"/>
<line x1="452.2" y1="561.3" x2="456.7" y2="561.3" stroke="#111" stroke-width="2"/>
<line x1="452.2" y1="525.6" x2="456.7" y2="525.6" stroke="#111" stroke-width="2"/>
<line x1="452.2" y1="489.8" x2="456.7" y2="489.8" stroke="#111" stroke-width="2"/>
<line x1="452.2" y1="454.1" x2="456.7" y2="454.1" stroke="#111" stroke-width="2"/>
<line x1="452.2" y1="418.4" x2="456.7" y2="418.4" stroke="#111" stroke-width="2"/>
<line x1="452.2" y1="382.7" x2="456.7" y2="382.7" stroke="#111" stroke-width="2"/>
<line x1="456.2" y1="655.4" x2="456.2" y2="870.7" stroke="#111" stroke-width="2.3"/>
<rect x="465.0" y="825.6" width="27.3" height="45.1" fill="#ff00ff"/>
<line x1="478.6" y1="814.2" x2="478.6" y2="825.6" stroke="#ff00ff" stroke-width="2.5"/>
<line x1="473.1" y1="814.2" x2="484.1" y2="814.2" stroke="#ff00ff" stroke-width="2.3"/>
<rect x="492.3" y="846.7" width="27.3" height="24.0" fill="#009900"/>
<line x1="505.9" y1="841.2" x2="505.9" y2="846.7" stroke="#009900" stroke-width="2.5"/>
<line x1="500.4" y1="841.2" x2="511.4" y2="841.2" stroke="#009900" stroke-width="2.3"/>
<rect x="536.0" y="792.9" width="27.3" height="77.8" fill="#ff00ff"/>
<line x1="549.6" y1="774.6" x2="549.6" y2="792.9" stroke="#ff00ff" stroke-width="2.5"/>
<line x1="544.1" y1="774.6" x2="555.1" y2="774.6" stroke="#ff00ff" stroke-width="2.3"/>
<rect x="563.3" y="824.8" width="27.3" height="45.9" fill="#009900"/>
<line x1="576.9" y1="816" x2="576.9" y2="824.8" stroke="#009900" stroke-width="2.5"/>
<line x1="571.4" y1="816" x2="582.4" y2="816" stroke="#009900" stroke-width="2.3"/>
<rect x="607.0" y="764.2" width="27.3" height="106.5" fill="#ff00ff"/>
<line x1="620.6" y1="746.5" x2="620.6" y2="764.2" stroke="#ff00ff" stroke-width="2.5"/>
<line x1="615.1" y1="746.5" x2="626.1" y2="746.5" stroke="#ff00ff" stroke-width="2.3"/>
<rect x="634.3" y="845.3" width="27.3" height="25.4" fill="#009900"/>
<line x1="647.9" y1="840.7" x2="647.9" y2="845.3" stroke="#009900" stroke-width="2.5"/>
<line x1="642.4" y1="840.7" x2="653.4" y2="840.7" stroke="#009900" stroke-width="2.3"/>
<rect x="678.0" y="725.2" width="27.3" height="145.5" fill="#ff00ff"/>
<line x1="691.6" y1="691" x2="691.6" y2="725.2" stroke="#ff00ff" stroke-width="2.5"/>
<line x1="686.1" y1="691" x2="697.1" y2="691" stroke="#ff00ff" stroke-width="2.3"/>
<rect x="705.3" y="840.1" width="27.3" height="30.6" fill="#009900"/>
<line x1="718.9" y1="836.6" x2="718.9" y2="840.1" stroke="#009900" stroke-width="2.5"/>
<line x1="713.4" y1="836.6" x2="724.4" y2="836.6" stroke="#009900" stroke-width="2.3"/>
<line x1="451.7" y1="870.7" x2="740.2" y2="870.7" stroke="#111" stroke-width="2.3"/>
<line x1="451.7" y1="870.7" x2="456.2" y2="870.7" stroke="#111" stroke-width="2"/>
<line x1="451.7" y1="835.0" x2="456.2" y2="835.0" stroke="#111" stroke-width="2"/>
<line x1="451.7" y1="799.3" x2="456.2" y2="799.3" stroke="#111" stroke-width="2"/>
<line x1="451.7" y1="763.5" x2="456.2" y2="763.5" stroke="#111" stroke-width="2"/>
<line x1="451.7" y1="727.8" x2="456.2" y2="727.8" stroke="#111" stroke-width="2"/>
<line x1="451.7" y1="692.1" x2="456.2" y2="692.1" stroke="#111" stroke-width="2"/>
<line x1="451.7" y1="656.4" x2="456.2" y2="656.4" stroke="#111" stroke-width="2"/>
<path d="M149.25 393.80L149.25 390.40M149.25 393.80L152.48 392.75M149.25 393.80L151.25 396.55M149.25 393.80L147.25 396.55M149.25 393.80L146.02 392.75" stroke="#ff00ff" stroke-width="2.3" stroke-linecap="round" fill="none"/>
<path d="M172.20 529.40L172.20 526.00M172.20 529.40L175.43 528.35M172.20 529.40L174.20 532.15M172.20 529.40L170.20 532.15M172.20 529.40L168.97 528.35" stroke="#009900" stroke-width="2.1" stroke-linecap="round" fill="none"/>
<path d="M313.90 517.90L313.90 514.50M313.90 517.90L317.13 516.85M313.90 517.90L315.90 520.65M313.90 517.90L311.90 520.65M313.90 517.90L310.67 516.85" stroke="#009900" stroke-width="2.1" stroke-linecap="round" fill="none"/>
<path d="M147.90 670.40L147.90 667.10M147.90 670.40L151.04 669.38M147.90 670.40L149.84 673.07M147.90 670.40L145.96 673.07M147.90 670.40L144.76 669.38" stroke="#ff00ff" stroke-width="2.3" stroke-linecap="round" fill="none"/>
<path d="M292.10 676.80L292.10 673.50M292.10 676.80L295.24 675.78M292.10 676.80L294.04 679.47M292.10 676.80L290.16 679.47M292.10 676.80L288.96 675.78" stroke="#ff00ff" stroke-width="2.3" stroke-linecap="round" fill="none"/>
<path d="M573.10 512.50L577.00 512.50M573.10 512.50L575.05 515.88M573.10 512.50L571.15 515.88M573.10 512.50L569.20 512.50M573.10 512.50L571.15 509.12M573.10 512.50L575.05 509.12" stroke="#1e9e1e" stroke-width="1.9" stroke-linecap="round" fill="none"/>
<path d="M690.90 414.10L690.90 410.80M690.90 414.10L694.04 413.08M690.90 414.10L692.84 416.77M690.90 414.10L688.96 416.77M690.90 414.10L687.76 413.08" stroke="#ff00ff" stroke-width="2.3" stroke-linecap="round" fill="none"/>
<path d="M685.30 678.00L685.30 674.70M685.30 678.00L688.44 676.98M685.30 678.00L687.24 680.67M685.30 678.00L683.36 680.67M685.30 678.00L682.16 676.98" stroke="#ff00ff" stroke-width="2.3" stroke-linecap="round" fill="none"/>
<rect x="40.5" y="919.7" width="19.8" height="20" fill="#ff00ff"/>
<rect x="191" y="919.7" width="20" height="19.5" fill="#009900"/>
<path d="M461.20 920.40L461.20 916.60M461.20 920.40L464.81 919.23M461.20 920.40L463.43 923.47M461.20 920.40L458.97 923.47M461.20 920.40L457.59 919.23" stroke="#111" stroke-width="1.9" stroke-linecap="round" fill="none"/>
<g filter="url(#tb)"><text x="1.5" y="24.2" font-size="23" fill="#000" stroke="#000" stroke-width="0.35" text-anchor="start" font-weight="bold" >a</text>
<text x="1.5" y="325" font-size="22" fill="#000" stroke="#000" stroke-width="0.35" text-anchor="start" font-weight="bold" >c</text>
<text x="400.5" y="325" font-size="22" fill="#000" stroke="#000" stroke-width="0.35" text-anchor="start" font-weight="bold" >d</text>
<text x="50.2" y="336.9" font-size="16.4" fill="#1e1e1e" stroke="#1e1e1e" stroke-width="0.35" text-anchor="start" font-weight="normal" textLength="47.4" lengthAdjust="spacingAndGlyphs" >mPFC</text>
<text x="452.2" y="336.1" font-size="16.4" fill="#1e1e1e" stroke="#1e1e1e" stroke-width="0.35" text-anchor="start" font-weight="normal" textLength="76.2" lengthAdjust="spacingAndGlyphs" >Amygdala</text>
<text x="186" y="382.4" font-size="15" fill="#1e1e1e" stroke="#1e1e1e" stroke-width="0.35" text-anchor="start" font-weight="normal" textLength="18.6" lengthAdjust="spacingAndGlyphs" >PL</text>
<text x="186" y="657" font-size="15" fill="#1e1e1e" stroke="#1e1e1e" stroke-width="0.35" text-anchor="start" font-weight="normal" textLength="11.7" lengthAdjust="spacingAndGlyphs" >IL</text>
<text x="577.8" y="381.3" font-size="15" fill="#1e1e1e" stroke="#1e1e1e" stroke-width="0.35" text-anchor="start" font-weight="normal" textLength="28.2" lengthAdjust="spacingAndGlyphs" >BLA</text>
<text x="577.8" y="656.4" font-size="15" fill="#1e1e1e" stroke="#1e1e1e" stroke-width="0.35" text-anchor="start" font-weight="normal" textLength="29.5" lengthAdjust="spacingAndGlyphs" >CeA</text>
<text x="44.6" y="600.7" font-size="12.8" fill="#1e1e1e" stroke="#1e1e1e" stroke-width="0.35" text-anchor="end" font-weight="normal" textLength="6.5" lengthAdjust="spacingAndGlyphs" >0</text>
<text x="44.6" y="558.0" font-size="12.8" fill="#1e1e1e" stroke="#1e1e1e" stroke-width="0.35" text-anchor="end" font-weight="normal" textLength="12.9" lengthAdjust="spacingAndGlyphs" >30</text>
<text x="44.6" y="515.3" font-size="12.8" fill="#1e1e1e" stroke="#1e1e1e" stroke-width="0.35" text-anchor="end" font-weight="normal" textLength="12.9" lengthAdjust="spacingAndGlyphs" >60</text>
<text x="44.6" y="472.6" font-size="12.8" fill="#1e1e1e" stroke="#1e1e1e" stroke-width="0.35" text-anchor="end" font-weight="normal" textLength="12.9" lengthAdjust="spacingAndGlyphs" >90</text>
<text x="44.6" y="429.9" font-size="12.8" fill="#1e1e1e" stroke="#1e1e1e" stroke-width="0.35" text-anchor="end" font-weight="normal" textLength="19.4" lengthAdjust="spacingAndGlyphs" >120</text>
<text x="44.6" y="387.2" font-size="12.8" fill="#1e1e1e" stroke="#1e1e1e" stroke-width="0.35" text-anchor="end" font-weight="normal" textLength="19.4" lengthAdjust="spacingAndGlyphs" >150</text>
<text x="92.1" y="615" font-size="14" fill="#1e1e1e" stroke="#1e1e1e" stroke-width="0.35" text-anchor="middle" font-weight="normal" >Control</text>
<text x="163.1" y="615" font-size="14" fill="#1e1e1e" stroke="#1e1e1e" stroke-width="0.35" text-anchor="middle" font-weight="normal" >Unaffected</text>
<text x="234.1" y="615" font-size="14" fill="#1e1e1e" stroke="#1e1e1e" stroke-width="0.35" text-anchor="middle" font-weight="normal" >Anxious</text>
<text x="305.1" y="615" font-size="14" fill="#1e1e1e" stroke="#1e1e1e" stroke-width="0.35" text-anchor="middle" font-weight="normal" >Anhedonic</text>
<text transform="translate(13.8,490.2) rotate(-90)" font-size="14.4" fill="#1e1e1e" stroke="#1e1e1e" stroke-width="0.35" text-anchor="middle">IR cells / mm<tspan font-size="8.5" dy="-5.5">2</tspan></text>
<text x="44.3" y="875.8" font-size="12.8" fill="#1e1e1e" stroke="#1e1e1e" stroke-width="0.35" text-anchor="end" font-weight="normal" textLength="6.5" lengthAdjust="spacingAndGlyphs" >0</text>
<text x="44.3" y="832.9" font-size="12.8" fill="#1e1e1e" stroke="#1e1e1e" stroke-width="0.35" text-anchor="end" font-weight="normal" textLength="12.9" lengthAdjust="spacingAndGlyphs" >30</text>
<text x="44.3" y="790.1" font-size="12.8" fill="#1e1e1e" stroke="#1e1e1e" stroke-width="0.35" text-anchor="end" font-weight="normal" textLength="12.9" lengthAdjust="spacingAndGlyphs" >60</text>
<text x="44.3" y="747.2" font-size="12.8" fill="#1e1e1e" stroke="#1e1e1e" stroke-width="0.35" text-anchor="end" font-weight="normal" textLength="12.9" lengthAdjust="spacingAndGlyphs" >90</text>
<text x="44.3" y="704.4" font-size="12.8" fill="#1e1e1e" stroke="#1e1e1e" stroke-width="0.35" text-anchor="end" font-weight="normal" textLength="19.4" lengthAdjust="spacingAndGlyphs" >120</text>
<text x="44.3" y="661.5" font-size="12.8" fill="#1e1e1e" stroke="#1e1e1e" stroke-width="0.35" text-anchor="end" font-weight="normal" textLength="19.4" lengthAdjust="spacingAndGlyphs" >150</text>
<text x="92.1" y="891" font-size="14" fill="#1e1e1e" stroke="#1e1e1e" stroke-width="0.35" text-anchor="middle" font-weight="normal" >Control</text>
<text x="163.1" y="891" font-size="14" fill="#1e1e1e" stroke="#1e1e1e" stroke-width="0.35" text-anchor="middle" font-weight="normal" >Unaffected</text>
<text x="234.1" y="891" font-size="14" fill="#1e1e1e" stroke="#1e1e1e" stroke-width="0.35" text-anchor="middle" font-weight="normal" >Anxious</text>
<text x="305.1" y="891" font-size="14" fill="#1e1e1e" stroke="#1e1e1e" stroke-width="0.35" text-anchor="middle" font-weight="normal" >Anhedonic</text>
<text transform="translate(13.8,767) rotate(-90)" font-size="14.4" fill="#1e1e1e" stroke="#1e1e1e" stroke-width="0.35" text-anchor="middle">IR cells / mm<tspan font-size="8.5" dy="-5.5">2</tspan></text>
<text x="444.1" y="601.6" font-size="12.8" fill="#1e1e1e" stroke="#1e1e1e" stroke-width="0.35" text-anchor="end" font-weight="normal" textLength="6.5" lengthAdjust="spacingAndGlyphs" >0</text>
<text x="444.1" y="565.9" font-size="12.8" fill="#1e1e1e" stroke="#1e1e1e" stroke-width="0.35" text-anchor="end" font-weight="normal" textLength="12.9" lengthAdjust="spacingAndGlyphs" >20</text>
<text x="444.1" y="530.2" font-size="12.8" fill="#1e1e1e" stroke="#1e1e1e" stroke-width="0.35" text-anchor="end" font-weight="normal" textLength="12.9" lengthAdjust="spacingAndGlyphs" >40</text>
<text x="444.1" y="494.4" font-size="12.8" fill="#1e1e1e" stroke="#1e1e1e" stroke-width="0.35" text-anchor="end" font-weight="normal" textLength="12.9" lengthAdjust="spacingAndGlyphs" >60</text>
<text x="444.1" y="458.7" font-size="12.8" fill="#1e1e1e" stroke="#1e1e1e" stroke-width="0.35" text-anchor="end" font-weight="normal" textLength="12.9" lengthAdjust="spacingAndGlyphs" >80</text>
<text x="444.1" y="423.0" font-size="12.8" fill="#1e1e1e" stroke="#1e1e1e" stroke-width="0.35" text-anchor="end" font-weight="normal" textLength="19.4" lengthAdjust="spacingAndGlyphs" >100</text>
<text x="444.1" y="387.3" font-size="12.8" fill="#1e1e1e" stroke="#1e1e1e" stroke-width="0.35" text-anchor="end" font-weight="normal" textLength="19.4" lengthAdjust="spacingAndGlyphs" >120</text>
<text x="492.3" y="615.3" font-size="14" fill="#1e1e1e" stroke="#1e1e1e" stroke-width="0.35" text-anchor="middle" font-weight="normal" >Control</text>
<text x="563.3" y="615.3" font-size="14" fill="#1e1e1e" stroke="#1e1e1e" stroke-width="0.35" text-anchor="middle" font-weight="normal" >Unaffected</text>
<text x="634.3" y="615.3" font-size="14" fill="#1e1e1e" stroke="#1e1e1e" stroke-width="0.35" text-anchor="middle" font-weight="normal" >Anxious</text>
<text x="705.3" y="615.3" font-size="14" fill="#1e1e1e" stroke="#1e1e1e" stroke-width="0.35" text-anchor="middle" font-weight="normal" >Anhedonic</text>
<text transform="translate(412.4,488.9) rotate(-90)" font-size="14.4" fill="#1e1e1e" stroke="#1e1e1e" stroke-width="0.35" text-anchor="middle">IR cells / mm<tspan font-size="8.5" dy="-5.5">2</tspan></text>
<text x="443.6" y="875.3" font-size="12.8" fill="#1e1e1e" stroke="#1e1e1e" stroke-width="0.35" text-anchor="end" font-weight="normal" textLength="6.5" lengthAdjust="spacingAndGlyphs" >0</text>
<text x="443.6" y="839.6" font-size="12.8" fill="#1e1e1e" stroke="#1e1e1e" stroke-width="0.35" text-anchor="end" font-weight="normal" textLength="12.9" lengthAdjust="spacingAndGlyphs" >20</text>
<text x="443.6" y="803.9" font-size="12.8" fill="#1e1e1e" stroke="#1e1e1e" stroke-width="0.35" text-anchor="end" font-weight="normal" textLength="12.9" lengthAdjust="spacingAndGlyphs" >40</text>
<text x="443.6" y="768.1" font-size="12.8" fill="#1e1e1e" stroke="#1e1e1e" stroke-width="0.35" text-anchor="end" font-weight="normal" textLength="12.9" lengthAdjust="spacingAndGlyphs" >60</text>
<text x="443.6" y="732.4" font-size="12.8" fill="#1e1e1e" stroke="#1e1e1e" stroke-width="0.35" text-anchor="end" font-weight="normal" textLength="12.9" lengthAdjust="spacingAndGlyphs" >80</text>
<text x="443.6" y="696.7" font-size="12.8" fill="#1e1e1e" stroke="#1e1e1e" stroke-width="0.35" text-anchor="end" font-weight="normal" textLength="19.4" lengthAdjust="spacingAndGlyphs" >100</text>
<text x="443.6" y="661.0" font-size="12.8" fill="#1e1e1e" stroke="#1e1e1e" stroke-width="0.35" text-anchor="end" font-weight="normal" textLength="19.4" lengthAdjust="spacingAndGlyphs" >120</text>
<text x="492.3" y="890.6" font-size="14" fill="#1e1e1e" stroke="#1e1e1e" stroke-width="0.35" text-anchor="middle" font-weight="normal" >Control</text>
<text x="563.3" y="890.6" font-size="14" fill="#1e1e1e" stroke="#1e1e1e" stroke-width="0.35" text-anchor="middle" font-weight="normal" >Unaffected</text>
<text x="634.3" y="890.6" font-size="14" fill="#1e1e1e" stroke="#1e1e1e" stroke-width="0.35" text-anchor="middle" font-weight="normal" >Anxious</text>
<text x="705.3" y="890.6" font-size="14" fill="#1e1e1e" stroke="#1e1e1e" stroke-width="0.35" text-anchor="middle" font-weight="normal" >Anhedonic</text>
<text transform="translate(412.4,758.7) rotate(-90)" font-size="14.4" fill="#1e1e1e" stroke="#1e1e1e" stroke-width="0.35" text-anchor="middle">IR cells / mm<tspan font-size="8.5" dy="-5.5">2</tspan></text>
<text x="176.6" y="536.9" font-size="18" fill="#009900" stroke="#009900" stroke-width="0.35" text-anchor="start" font-weight="normal" textLength="8.2" lengthAdjust="spacingAndGlyphs" >$</text>
<text x="318.9" y="523.8" font-size="18" fill="#009900" stroke="#009900" stroke-width="0.35" text-anchor="start" font-weight="normal" textLength="7.6" lengthAdjust="spacingAndGlyphs" >$</text>
<text x="245.4" y="809.2" font-size="12.5" fill="#009900" stroke="#009900" stroke-width="0.35" text-anchor="start" font-weight="normal" textLength="6.2" lengthAdjust="spacingAndGlyphs" >#</text>
<text x="578.6" y="518.6" font-size="18" fill="#22a022" stroke="#22a022" stroke-width="0.35" text-anchor="start" font-weight="normal" textLength="6.4" lengthAdjust="spacingAndGlyphs" >$</text>
<text x="714.6" y="517.2" font-size="18" fill="#22a022" stroke="#22a022" stroke-width="0.35" text-anchor="start" font-weight="normal" textLength="7.2" lengthAdjust="spacingAndGlyphs" >$</text>
<text x="695.0" y="683.5" font-size="13" fill="#ff00ff" stroke="#ff00ff" stroke-width="0.35" text-anchor="start" font-weight="normal" textLength="6.8" lengthAdjust="spacingAndGlyphs" >#</text>
<text x="73.4" y="935.7" font-size="15" fill="#1e1e1e" stroke="#1e1e1e" stroke-width="0.35" text-anchor="start" font-weight="normal" textLength="56.6" lengthAdjust="spacingAndGlyphs" >c-Fos IR</text>
<text x="225.4" y="935.4" font-size="15" fill="#1e1e1e" stroke="#1e1e1e" stroke-width="0.35" text-anchor="start" font-weight="normal" textLength="123.6" lengthAdjust="spacingAndGlyphs" >GAD67 + c-Fos IR</text>
<text x="478.2" y="924" font-size="14.2" fill="#1e1e1e" stroke="#1e1e1e" stroke-width="0.35" text-anchor="start" font-weight="normal" textLength="80.2" lengthAdjust="spacingAndGlyphs" >From Control</text>
<text x="458" y="951.5" font-size="14" fill="#222" stroke="#222" stroke-width="0.6" text-anchor="start" font-weight="normal" textLength="7.5" lengthAdjust="spacingAndGlyphs" >#</text>
<text x="479.2" y="950.8" font-size="14.2" fill="#1e1e1e" stroke="#1e1e1e" stroke-width="0.35" text-anchor="start" font-weight="normal" textLength="102.4" lengthAdjust="spacingAndGlyphs" >From Unaffected</text>
<text x="617" y="920.8" font-size="13.8" fill="#222" stroke="#222" stroke-width="0.6" text-anchor="start" font-weight="normal" textLength="7.5" lengthAdjust="spacingAndGlyphs" >$</text>
<text x="639.6" y="923.2" font-size="14.2" fill="#1e1e1e" stroke="#1e1e1e" stroke-width="0.35" text-anchor="start" font-weight="normal" textLength="83.7" lengthAdjust="spacingAndGlyphs" >From Anxious</text>
<text x="617" y="950.4" font-size="13" fill="#222" stroke="#222" stroke-width="0.6" text-anchor="start" font-weight="normal" textLength="8.6" lengthAdjust="spacingAndGlyphs" >&amp;</text>
<text x="641.3" y="949.8" font-size="14.2" fill="#1e1e1e" stroke="#1e1e1e" stroke-width="0.35" text-anchor="start" font-weight="normal" textLength="102.3" lengthAdjust="spacingAndGlyphs" >From Anhedonic</text></g>
</svg>
</body></html>
